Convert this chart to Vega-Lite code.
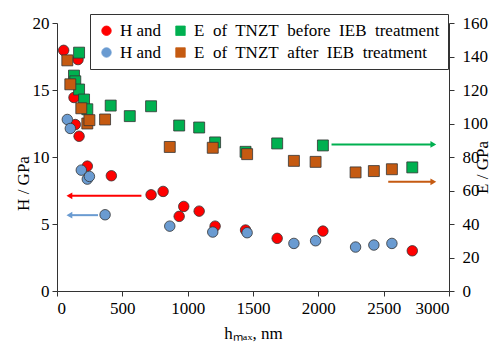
{
  "$schema": "https://vega.github.io/schema/vega-lite/v6.json",
  "width": 392,
  "height": 268,
  "autosize": {"type": "none"},
  "padding": {"left": 57, "top": 23, "right": 50, "bottom": 53},
  "background": "white",
  "config": {
    "view": {"stroke": null},
    "font": "Liberation Serif",
    "axis": {
      "grid": false,
      "labelFont": "Liberation Serif",
      "titleFont": "Liberation Serif",
      "labelFontSize": 17,
      "titleFontSize": 17,
      "labelColor": "#000",
      "titleColor": "#000",
      "titleFontWeight": "normal",
      "domainColor": "#333",
      "tickColor": "#333",
      "tickSize": 5
    },
    "legend": {
      "orient": "none",
      "legendX": 33,
      "legendY": -9,
      "columns": 2,
      "title": null,
      "strokeColor": "#333",
      "fillColor": "white",
      "padding": 8,
      "labelFont": "Liberation Serif",
      "labelFontSize": 17,
      "labelColor": "#000",
      "labelLimit": 400,
      "symbolSize": 90,
      "symbolStrokeColor": "#333",
      "symbolStrokeWidth": 0.8,
      "columnPadding": 10,
      "rowPadding": 4,
      "labelOffset": 5
    }
  },
  "datasets": {
    "H": [
      {"s": "Hb", "h": 51, "v": 17.96}, {"s": "Hb", "h": 161, "v": 17.27}, {"s": "Hb", "h": 130, "v": 14.44},
      {"s": "Hb", "h": 140, "v": 12.42}, {"s": "Hb", "h": 169, "v": 11.55}, {"s": "Hb", "h": 232, "v": 9.32},
      {"s": "Hb", "h": 416, "v": 8.6}, {"s": "Hb", "h": 720, "v": 7.18}, {"s": "Hb", "h": 812, "v": 7.43},
      {"s": "Hb", "h": 935, "v": 5.57}, {"s": "Hb", "h": 970, "v": 6.31}, {"s": "Hb", "h": 1088, "v": 5.96},
      {"s": "Hb", "h": 1210, "v": 4.84}, {"s": "Hb", "h": 1443, "v": 4.55}, {"s": "Hb", "h": 1685, "v": 3.93},
      {"s": "Hb", "h": 2035, "v": 4.47}, {"s": "Hb", "h": 2719, "v": 3.0},
      {"s": "Ha", "h": 79, "v": 12.8}, {"s": "Ha", "h": 102, "v": 12.13}, {"s": "Ha", "h": 186, "v": 9.02},
      {"s": "Ha", "h": 232, "v": 8.35}, {"s": "Ha", "h": 248, "v": 8.55}, {"s": "Ha", "h": 368, "v": 5.69},
      {"s": "Ha", "h": 863, "v": 4.84}, {"s": "Ha", "h": 1192, "v": 4.4}, {"s": "Ha", "h": 1455, "v": 4.35},
      {"s": "Ha", "h": 1813, "v": 3.55}, {"s": "Ha", "h": 1979, "v": 3.75}, {"s": "Ha", "h": 2285, "v": 3.28},
      {"s": "Ha", "h": 2425, "v": 3.43}, {"s": "Ha", "h": 2563, "v": 3.55}
    ],
    "E": [
      {"s": "Eb", "h": 169, "v": 142.3}, {"s": "Eb", "h": 130, "v": 128.6}, {"s": "Eb", "h": 140, "v": 125.2},
      {"s": "Eb", "h": 169, "v": 120.3}, {"s": "Eb", "h": 207, "v": 114.3}, {"s": "Eb", "h": 232, "v": 108.5},
      {"s": "Eb", "h": 411, "v": 110.7}, {"s": "Eb", "h": 557, "v": 104.4}, {"s": "Eb", "h": 720, "v": 110.3},
      {"s": "Eb", "h": 935, "v": 98.8}, {"s": "Eb", "h": 1088, "v": 97.6}, {"s": "Eb", "h": 1210, "v": 88.7},
      {"s": "Eb", "h": 1443, "v": 83.1}, {"s": "Eb", "h": 1685, "v": 88.1}, {"s": "Eb", "h": 2035, "v": 86.9},
      {"s": "Eb", "h": 2719, "v": 73.8},
      {"s": "Ea", "h": 79, "v": 137.7}, {"s": "Ea", "h": 102, "v": 123.4}, {"s": "Ea", "h": 186, "v": 109.1},
      {"s": "Ea", "h": 232, "v": 100.0}, {"s": "Ea", "h": 248, "v": 102.0}, {"s": "Ea", "h": 368, "v": 102.4},
      {"s": "Ea", "h": 863, "v": 86.0}, {"s": "Ea", "h": 1192, "v": 85.5}, {"s": "Ea", "h": 1455, "v": 81.7},
      {"s": "Ea", "h": 1813, "v": 77.7}, {"s": "Ea", "h": 1979, "v": 77.1}, {"s": "Ea", "h": 2285, "v": 70.8},
      {"s": "Ea", "h": 2425, "v": 71.6}, {"s": "Ea", "h": 2563, "v": 72.7}
    ],
    "HA": [
      {"s": "Hb", "h": 646, "h2": 95, "v": 7.1},
      {"s": "Ha", "h": 314, "h2": 95, "v": 5.66}
    ],
    "EA": [
      {"s": "Eb", "h": 2101, "h2": 2880, "v": 87.5},
      {"s": "Ea", "h": 2535, "h2": 2880, "v": 65.2}
    ]
  },
  "layer": [
    {
      "encoding": {
        "x": {"field": "h", "type": "quantitative", "scale": {"domain": [0, 3000]},
              "axis": {"values": [0, 500, 1000, 1500, 2000, 2500, 3000], "format": "d", "title": "hₘₐₓ, nm", "labelPadding": 4, "titlePadding": 9}},
        "y": {"field": "v", "type": "quantitative", "scale": {"domain": [0, 20]},
              "axis": {"orient": "left", "values": [0, 5, 10, 15, 20], "format": "d", "title": "H / GPa", "labelPadding": 3, "titlePadding": 0, "titleY": 160}}
      },
      "layer": [
        {
          "data": {"name": "H"},
          "mark": {"type": "point", "filled": true, "opacity": 1, "stroke": "#333", "strokeWidth": 0.8, "size": 110},
          "encoding": {
            "color": {"field": "s", "type": "nominal",
                      "scale": {"domain": ["Hb", "Ha", "Eb", "Ea"], "range": ["#FF0000", "#6A9BD1", "#00B050", "#C55A11"]},
                      "legend": {"labelExpr": "datum.value == 'Hb' || datum.value == 'Ha' ? 'H and' : datum.value == 'Eb' ? 'E\u00a0 of\u00a0 TNZT\u00a0 before\u00a0 IEB\u00a0 treatment' : 'E\u00a0 of\u00a0 TNZT\u00a0 after\u00a0 IEB\u00a0 treatment'"}},
            "shape": {"field": "s", "type": "nominal",
                      "scale": {"domain": ["Hb", "Ha", "Eb", "Ea"], "range": ["circle", "circle", "square", "square"]},
                      "legend": {"labelExpr": "datum.value == 'Hb' || datum.value == 'Ha' ? 'H and' : datum.value == 'Eb' ? 'E\u00a0 of\u00a0 TNZT\u00a0 before\u00a0 IEB\u00a0 treatment' : 'E\u00a0 of\u00a0 TNZT\u00a0 after\u00a0 IEB\u00a0 treatment'"}}
          }
        },
        {
          "data": {"name": "HA"},
          "mark": {"type": "rule", "strokeWidth": 2},
          "encoding": {
            "x2": {"field": "h2"},
            "color": {"field": "s", "type": "nominal", "legend": null}
          }
        },
        {
          "data": {"name": "HA"},
          "mark": {"type": "point", "shape": "triangle-left", "filled": true, "opacity": 1, "size": 45},
          "encoding": {
            "x": {"field": "h2", "type": "quantitative"},
            "color": {"field": "s", "type": "nominal", "legend": null}
          }
        }
      ]
    },
    {
      "encoding": {
        "x": {"field": "h", "type": "quantitative", "scale": {"domain": [0, 3000]}},
        "y": {"field": "v", "type": "quantitative", "scale": {"domain": [0, 160]},
              "axis": {"orient": "right", "values": [0, 20, 40, 60, 80, 100, 120, 140, 160], "format": "d", "title": "E / GPa", "titleAngle": 270, "labelPadding": 8, "titlePadding": 4, "titleY": 144}}
      },
      "layer": [
        {
          "data": {"name": "E"},
          "mark": {"type": "point", "filled": true, "opacity": 1, "stroke": "#333", "strokeWidth": 0.8, "size": 120},
          "encoding": {
            "color": {"field": "s", "type": "nominal",
                      "scale": {"domain": ["Hb", "Ha", "Eb", "Ea"], "range": ["#FF0000", "#6A9BD1", "#00B050", "#C55A11"]},
                      "legend": {"labelExpr": "datum.value == 'Hb' || datum.value == 'Ha' ? 'H and' : datum.value == 'Eb' ? 'E\u00a0 of\u00a0 TNZT\u00a0 before\u00a0 IEB\u00a0 treatment' : 'E\u00a0 of\u00a0 TNZT\u00a0 after\u00a0 IEB\u00a0 treatment'"}},
            "shape": {"field": "s", "type": "nominal",
                      "scale": {"domain": ["Hb", "Ha", "Eb", "Ea"], "range": ["circle", "circle", "square", "square"]},
                      "legend": {"labelExpr": "datum.value == 'Hb' || datum.value == 'Ha' ? 'H and' : datum.value == 'Eb' ? 'E\u00a0 of\u00a0 TNZT\u00a0 before\u00a0 IEB\u00a0 treatment' : 'E\u00a0 of\u00a0 TNZT\u00a0 after\u00a0 IEB\u00a0 treatment'"}}
          }
        },
        {
          "data": {"name": "EA"},
          "mark": {"type": "rule", "strokeWidth": 2},
          "encoding": {
            "x2": {"field": "h2"},
            "color": {"field": "s", "type": "nominal", "legend": null}
          }
        },
        {
          "data": {"name": "EA"},
          "mark": {"type": "point", "shape": "triangle-right", "filled": true, "opacity": 1, "size": 45},
          "encoding": {
            "x": {"field": "h2", "type": "quantitative"},
            "color": {"field": "s", "type": "nominal", "legend": null}
          }
        }
      ]
    }
  ],
  "resolve": {"scale": {"y": "independent"}, "axis": {"y": "independent"}}
}
